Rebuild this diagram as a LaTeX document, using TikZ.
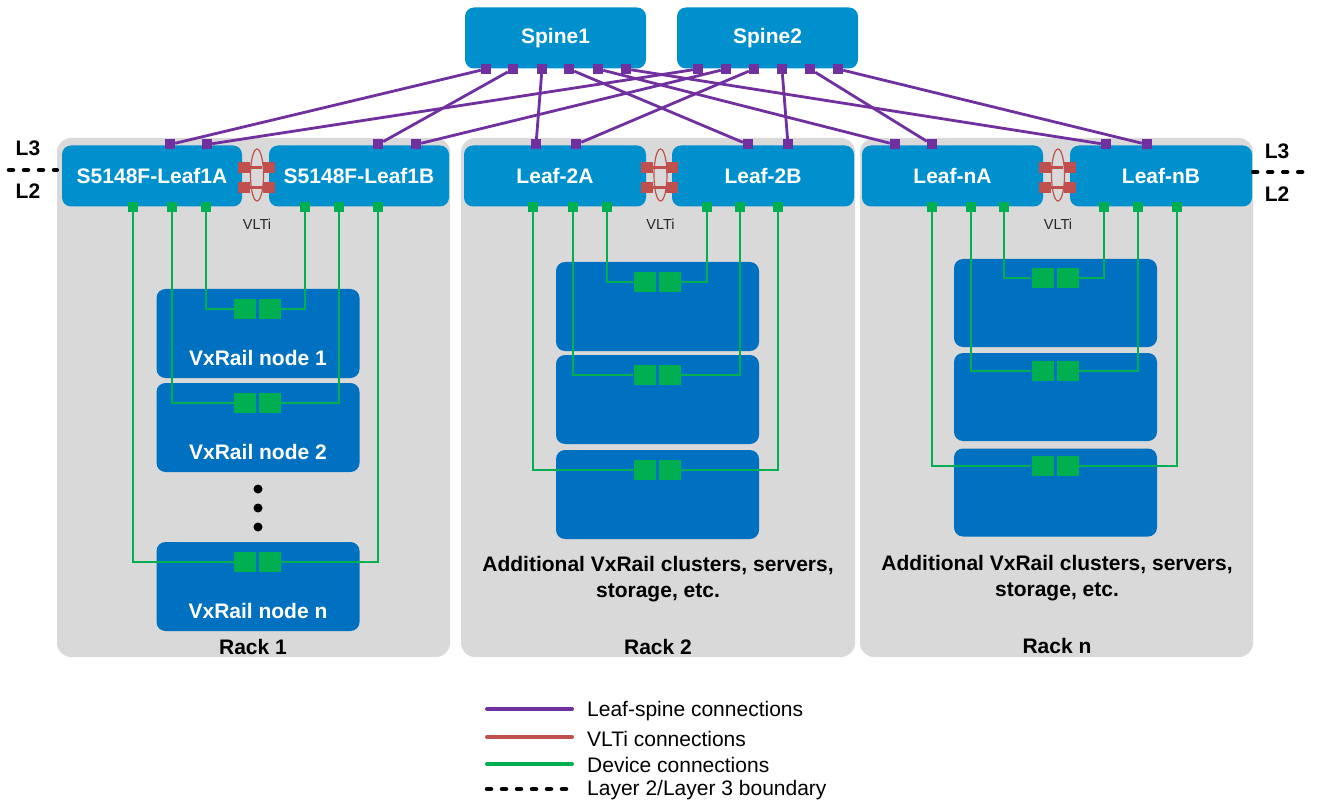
\documentclass[tikz,border=0pt]{standalone}
\usepackage{fontspec}
\setmainfont{Liberation Sans}
\usetikzlibrary{positioning,shapes.geometric}
\definecolor{swblue}{RGB}{0,144,206}
\definecolor{hostblue}{RGB}{0,112,192}
\definecolor{rackgray}{RGB}{217,217,217}
\definecolor{lspurple}{RGB}{112,48,160}
\definecolor{devgreen}{RGB}{0,176,80}
\definecolor{vltred}{RGB}{192,80,77}
\newcommand{\vxboxfont}{\bfseries\fontsize{21}{26}\selectfont}
\newcommand{\vxkeyfont}{\fontsize{21}{24}\selectfont}
\begin{document}
\begin{tikzpicture}[x=1pt,y=-1pt,
rack/.style={fill=rackgray, rounded corners=14pt, minimum width=393pt, minimum height=519pt, inner sep=0pt},
switch/.style={fill=swblue, rounded corners=9pt, minimum width=180pt, minimum height=61pt, text=white, font=\vxboxfont, inner sep=0pt},
host/.style={fill=hostblue, rounded corners=9pt, minimum width=203pt, minimum height=89pt, inner sep=0pt},
hostlabel/.style={text=white, font=\vxboxfont, inner sep=0pt},
racklabel/.style={font=\vxboxfont, align=center, inner sep=0pt},
l23label/.style={font=\vxboxfont, inner sep=0pt},
vltlabel/.style={font=\fontsize{14.5}{16}\selectfont, text=black!85, inner sep=0pt},
keylabel/.style={font=\vxkeyfont, anchor=west, inner sep=0pt},
lsport/.style={fill=lspurple, minimum size=10pt, inner sep=0pt},
devport/.style={fill=devgreen, minimum size=10pt, inner sep=0pt},
nic/.style={fill=devgreen, minimum width=22pt, minimum height=20pt, inner sep=0pt},
vltport/.style={fill=vltred, minimum width=12pt, minimum height=11pt, inner sep=0pt},
vltring/.style={ellipse, draw=vltred, line width=1.2pt, minimum width=13pt, minimum height=52pt, inner sep=0pt},
rackdot/.style={circle, fill=black, minimum size=9pt, inner sep=0pt},
lsline/.style={draw=lspurple, line width=2.8pt},
devline/.style={draw=devgreen, line width=2.8pt},
vltline/.style={draw=vltred, line width=2.8pt},
bndline/.style={draw=black, line width=4.5pt, line cap=round, dash pattern=on 4pt off 11pt},
keyline/.style={line width=4pt, line cap=round}]
\useasboundingbox (0,0) rectangle (1317,802);
% racks
\node[rack] (rack1) at (253.5,397.5) {};
\node[rack, minimum width=394pt] (rack2) at (658,397.5) {};
\node[rack] (rackn) at (1056.5,397.5) {};
% spines and leaves
\node[switch, minimum width=181pt] (spine1) at (555.5,38) {Spine1};
\node[switch, minimum width=181pt] (spine2) at (767.5,38) {Spine2};
\node[switch] (leaf1a) at (152,176) {S5148F-Leaf1A};
\node[switch] (leaf1b) at (359,176) {S5148F-Leaf1B};
\node[switch, minimum width=182pt] (leaf2a) at (555,176) {Leaf-2A};
\node[switch, minimum width=182pt] (leaf2b) at (763,176) {Leaf-2B};
\node[switch, minimum width=181pt] (leafna) at (952.5,176) {Leaf-nA};
\node[switch, minimum width=182pt] (leafnb) at (1161,176) {Leaf-nB};
% hosts
\node[host] (h11) at (258,333.5) {};
\node[host] (h12) at (258,427.5) {};
\node[host] (h13) at (258,586.5) {};
\node[hostlabel] (t11) at ([yshift=20pt]h11.south) {VxRail node 1};
\node[hostlabel] (t12) at ([yshift=20pt]h12.south) {VxRail node 2};
\node[hostlabel] (t13) at ([yshift=20pt]h13.south) {VxRail node n};
\foreach \y [count=\i] in {489,508,527}
  \node[rackdot] (dot\i) at (258,\y) {};
\node[host] (h21) at (657.5,306.5) {};
\node[host] (h22) at (657.5,399.5) {};
\node[host] (h23) at (657.5,494.5) {};
\node[host, minimum height=88pt] (hn1) at (1055.5,303) {};
\node[host, minimum height=88pt] (hn2) at (1055.5,397) {};
\node[host, minimum height=88pt] (hn3) at (1055.5,492.5) {};
\node[racklabel] (more2) at (658,579) {Additional VxRail clusters, servers,\\storage, etc.};
\node[racklabel] (moren) at (1057,578) {Additional VxRail clusters, servers,\\storage, etc.};
\node[racklabel] (name1) at (253,647) {Rack 1};
\node[racklabel] (name2) at (658,647) {Rack 2};
\node[racklabel] (namen) at (1057,646) {Rack n};
% ports
\foreach \h/\x/\y in {11/257.5/309, 12/257.5/403, 13/257.5/562, 21/657/282, 22/657/375, 23/657/470, n1/1055/278, n2/1055/371, n3/1055/466} {
  \node[nic] (nic\h-l) at (\x-12.5,\y) {};
  \node[nic] (nic\h-r) at (\x+12.5,\y) {};
}
\foreach \p/\x in {1a1/170,1a2/207,1b1/378,1b2/416,2a1/536,2a2/576,2b1/748,2b2/788,na1/895,na2/932,nb1/1106,nb2/1147}
  \node[lsport] (up\p) at (\x,144.5) {};
\foreach \x [count=\i] in {486,513,542,569,598,626}
  \node[lsport] (s1p\i) at (\x,69) {};
\foreach \x [count=\i] in {698,726,754,782,810,838}
  \node[lsport] (s2p\i) at (\x,69) {};
\foreach \p/\x in {1a1/133,1a2/172,1a3/206,1b1/305,1b2/339,1b3/378,2a1/533,2a2/573,2a3/607,2b1/707,2b2/740,2b3/778,na1/932,na2/971,na3/1004,nb1/1104,nb2/1138,nb3/1177}
  \node[devport] (dn\p) at (\x,207) {};
% leaf-spine connections
\foreach \l [count=\i] in {1a,1b,2a,2b,na,nb} {
  \draw[lsline] (s1p\i) -- (up\l1);
  \draw[lsline] (s2p\i) -- (up\l2);
}
% device connections
\foreach \k in {1,2,n} {
  \draw[devline] (dn\k a3) |- (nic\k1-l);
  \draw[devline] (dn\k b1) |- (nic\k1-r);
  \draw[devline] (dn\k a2) |- (nic\k2-l);
  \draw[devline] (dn\k b2) |- (nic\k2-r);
  \draw[devline] (dn\k a1) |- (nic\k3-l);
  \draw[devline] (dn\k b3) |- (nic\k3-r);
}
% VLTi
\foreach \k/\g in {1/255.5, 2/659, n/1056.5} {
  \node[vltring] (ring\k) at (\g+1.5,175) {};
  \node[vltport] (vl\k a) at (\g-12,167.5) {};
  \node[vltport] (vl\k b) at (\g+13,167.5) {};
  \node[vltport] (vl\k c) at (\g-12,187.5) {};
  \node[vltport] (vl\k d) at (\g+13,187.5) {};
  \draw[vltline] (vl\k a) -- (vl\k b);
  \draw[vltline] (vl\k c) -- (vl\k d);
  \node[vltlabel] (vlti\k) at (\g+1.5,224) {VLTi};
}
% L2/L3 boundary
\node[l23label] (l3l) at (28,148) {L3};
\node[l23label] (l2l) at (28,191) {L2};
\node[l23label] (l3r) at (1277,151) {L3};
\node[l23label] (l2r) at (1277,194) {L2};
\coordinate (bndl) at (9,170);
\coordinate (bndr) at (1306,172);
\draw[bndline] (bndl) -- (bndl -| rack1.west);
\draw[bndline] (rackn.east |- bndr) -- (bndr);
% legend
\coordinate (key1a) at (487,709); \coordinate (key1b) at (572,709);
\coordinate (key2a) at (487,737); \coordinate (key2b) at (572,737);
\coordinate (key3a) at (487,764); \coordinate (key3b) at (572,764);
\coordinate (key4a) at (487,789); \coordinate (key4b) at (572,789);
\draw[lsline, keyline] (key1a) -- (key1b);
\draw[vltline, keyline] (key2a) -- (key2b);
\draw[devline, keyline] (key3a) -- (key3b);
\draw[bndline] (key4a) -- (key4b);
\node[keylabel] (key1) at (587,711) {Leaf-spine connections};
\node[keylabel] (key2) at (587,739) {VLTi connections};
\node[keylabel] (key3) at (587,765) {Device connections};
\node[keylabel] (key4) at (587,790) {Layer 2/Layer 3 boundary};
\end{tikzpicture}
\end{document}
